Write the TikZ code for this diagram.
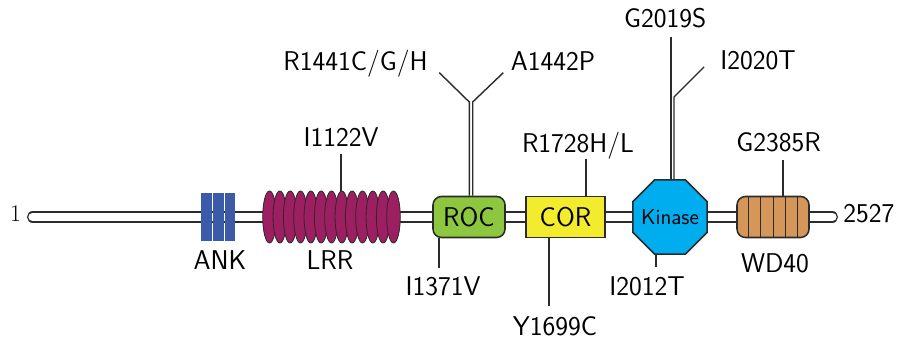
\documentclass[tikz,border=0pt]{standalone}
\usetikzlibrary{shapes.geometric, calc}
\definecolor{ankblue}{HTML}{3B5BA9}
\definecolor{lrrmaroon}{HTML}{9E1E62}
\definecolor{rocgreen}{HTML}{8DC63F}
\definecolor{coryellow}{HTML}{F3EC2E}
\definecolor{kinasecyan}{HTML}{00AEEF}
\definecolor{wdtan}{HTML}{D5965A}
\definecolor{edgegray}{HTML}{2B2B2B}

\begin{document}
\begin{tikzpicture}[
    font=\sffamily\fontsize{19.3}{23}\selectfont,
    backbone/.style={
      draw=edgegray, line width=1pt,
      double=white, double distance=6pt,
      line cap=round,
    },
    domain/.style={
      rectangle, draw=edgegray, fill=#1,
      line width=1.1pt, inner sep=0pt,
      minimum height=1.025cm,
    },
    ankbar/.style={
      rectangle, fill=ankblue, inner sep=0pt,
      minimum width=0.26cm, minimum height=1.2cm,
    },
    lrrunit/.style={
      ellipse, draw=edgegray, fill=lrrmaroon,
      line width=0.6pt, inner sep=0pt,
      minimum width=0.34cm, minimum height=1.3cm,
    },
    kinasebox/.style={
      regular polygon, regular polygon sides=8,
      draw=edgegray, fill=kinasecyan,
      line width=1.1pt, inner sep=0pt,
      minimum size=2.01cm,
      font=\sffamily\fontsize{15.3}{18}\selectfont,
    },
    mut/.style={anchor=base, inner sep=0pt},
    mutline/.style={draw=edgegray, line width=1pt},
  ]

  \useasboundingbox (0,0) rectangle (22.475,8.575);

  % backbone
  \coordinate (nterm) at (0.815,3.15);
  \coordinate (cterm) at (20.81,3.15);
  \draw[backbone] (nterm) -- (cterm);
  \node[mut, font=\rmfamily\fontsize{17}{20}\selectfont] (n1) at (0.39,3.025) {1};
  \node[anchor=base west, inner sep=0pt] (n2527) at (21.075,3.0) {2527};

  % domains
  \foreach \i/\x in {1/5.1625, 2/5.4575, 3/5.75}
    \node[ankbar] (ank\i) at (\x,3.15) {};
  \foreach \i in {1,...,13}
    \node[lrrunit] (lrr\i) at ({6.7375+(\i-1)*0.2583},3.15) {};
  \node[domain=rocgreen, rounded corners=6pt, minimum width=1.8cm] (roc) at (11.725,3.15) {ROC};
  \node[domain=coryellow, minimum width=1.975cm] (cor) at (14.1375,3.15) {COR};
  \node[kinasebox] (kinase) at (16.75,3.15) {\makebox[0pt]{Kinase}};
  \node[domain=wdtan, rounded corners=6pt, minimum width=1.8cm] (wd40) at (19.325,3.15) {};
  \foreach \k in {1,...,5}
    \draw[edgegray, line width=0.7pt]
      ($(wd40.south west)!\k/6!(wd40.south east)$) -- ($(wd40.north west)!\k/6!(wd40.north east)$);

  \node[mut] (ank) at (5.5,1.825) {ANK};
  \node[mut] (lrr) at (8.25,1.825) {LRR};
  \node[mut] (wd) at (19.375,1.75) {WD40};

  % mutations above
  \node[mut] (i1122v) at (8.525,4.9) {I1122V};
  \coordinate (i1122v-end) at (8.525,4.725);
  \draw[mutline] (i1122v-end) -- (i1122v-end |- lrr8.north);

  \node[mut] (r1441) at (8.8875,6.8) {R1441C/G/H};
  \node[mut] (a1442) at (13.825,6.8) {A1442P};
  \coordinate (r1441-end) at (10.9825,6.7575);
  \coordinate (a1442-end) at (12.5825,6.7575);
  \coordinate (r1441-fork) at (11.7325,6.025);
  \coordinate (a1442-fork) at (11.8175,6.025);
  \draw[mutline] (r1441-end) -- (r1441-fork) -- (r1441-fork |- roc.north);
  \draw[mutline] (a1442-end) -- (a1442-fork) -- (a1442-fork |- roc.north);

  \node[mut] (r1728) at (14.45,4.75) {R1728H/L};
  \coordinate (r1728-end) at (14.65,4.6);
  \draw[mutline] (r1728-end) -- (r1728-end |- cor.north);

  \node[mut] (g2019s) at (16.63,7.875) {G2019S};
  \node[mut] (i2020t) at (18.95,6.825) {I2020T};
  \coordinate (g2019s-end) at (16.775,7.65);
  \coordinate (i2020t-end) at (17.6,6.9);
  \coordinate (i2020t-fork) at (16.85,6.15);
  \draw[mutline] (g2019s-end) -- (g2019s-end |- kinase.north);
  \draw[mutline] (i2020t-end) -- (i2020t-fork) -- (i2020t-fork |- kinase.north);

  \node[mut] (g2385r) at (19.4625,4.775) {G2385R};
  \coordinate (g2385r-end) at (19.575,4.575);
  \draw[mutline] (g2385r-end) -- (g2385r-end |- wd40.north);

  % mutations below
  \node[mut] (i1371v) at (11.075,1.175) {I1371V};
  \coordinate (i1371v-end) at (10.975,1.875);
  \draw[mutline] (i1371v-end) -- (i1371v-end |- roc.south);

  \node[mut] (y1699c) at (13.875,0.175) {Y1699C};
  \coordinate (y1699c-end) at (13.725,0.925);
  \draw[mutline] (y1699c-end) -- (y1699c-end |- cor.south);

  \node[mut] (i2012t) at (16.175,1.19) {I2012T};
  \coordinate (i2012t-end) at (16.4,1.9);
  \draw[mutline] (i2012t-end) -- (i2012t-end |- kinase.south);
\end{tikzpicture}
\end{document}
